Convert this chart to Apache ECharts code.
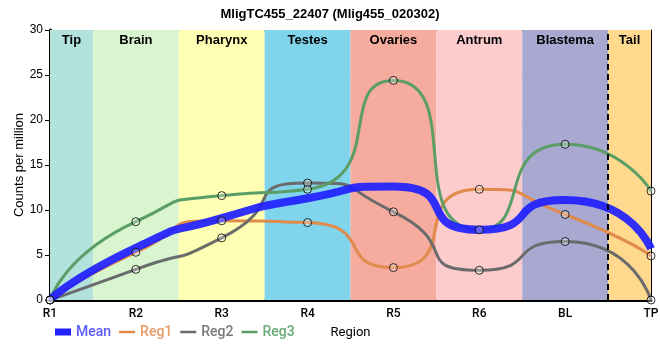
<!DOCTYPE html>
<html><head><meta charset="utf-8">
<script src="https://cdn.jsdelivr.net/npm/echarts@6/dist/echarts.min.js"></script>
<style>html,body{margin:0;padding:0;background:#fff}#c{width:660px;height:360px}</style>
</head><body><div id="c"></div>
<script>
const categories = ['R1','R2','R3','R4','R5','R6','BL','TP'];
const meanValues = [0, 5.8, 9.1, 11.3, 12.6, 7.8, 11.1, 5.7];
const reg1Values = [0, 5.3, 8.8, 8.6, 3.6, 12.3, 9.5, 4.9];
const reg2Values = [0, 3.4, 6.9, 13.0, 9.8, 3.3, 6.5, 0];
const reg3Values = [0, 8.7, 11.6, 12.3, 24.4, 7.8, 17.3, 12.1];
const bandNames = ['Tip','Brain','Pharynx','Testes','Ovaries','Antrum','Blastema','Tail'];
const bandStarts = [0, 0.5, 1.5, 2.5, 3.5, 4.5, 5.5, 6.5];
const bandEnds = [0.5, 1.5, 2.5, 3.5, 4.5, 5.5, 6.5, 7];
const bandColors = ['#b3e2dd','#d9f5d0','#ffffb3','#80d4eb','#f5ab9e','#fccccc','#a8a8d0','#fed98e'];
const dividerAt = 6.5;
const yTicks = {min: 0, max: 30, interval: 5};

const chart = echarts.init(document.getElementById('c'));
const seriesColors = {Mean: '#2020ff', Reg1: '#e08a4c', Reg2: '#6b6b6b', Reg3: '#5a9e66'};
const legendTextColors = {Mean: '#5a5aff', Reg1: '#e89a68', Reg2: '#7a7a7a', Reg3: '#6aaa78'};
const FONT = 'Liberation Sans, Arial, sans-serif';
const SMOOTH = 0.75;

const bandData = bandNames.map((n, i) => [
  {name: n, xAxis: bandStarts[i], itemStyle: {color: bandColors[i]}},
  {xAxis: bandEnds[i]}
]);

function lineSeries(name, values, width, z, opacity) {
  return {
    name, type: 'line', data: values, smooth: SMOOTH, symbol: 'none', z,
    color: seriesColors[name],
    lineStyle: {color: seriesColors[name], width, opacity},
    emphasis: {disabled: true}
  };
}
function markerSeries(values) {
  return {
    type: 'scatter', data: values, symbol: 'circle', symbolSize: 8, z: 10,
    itemStyle: {color: 'rgba(255,255,255,0.35)', borderColor: '#000', borderWidth: 1},
    emphasis: {disabled: true}, silent: true
  };
}
function legendItem(name, icon) {
  return {name, icon, itemStyle: {color: seriesColors[name], borderWidth: 0},
    textStyle: {color: legendTextColors[name]}};
}

chart.setOption({
  animation: false,
  title: {text: 'MligTC455_22407 (Mlig455_020302)', left: 'center', top: 3,
    textStyle: {fontSize: 13, fontWeight: 'bold', color: '#000', fontFamily: FONT}},
  grid: {left: 50, right: 9, top: 30, bottom: 60, containLabel: false, outerBoundsMode: 'none'},
  legend: {
    left: 50, top: 320, itemWidth: 16, itemHeight: 7, itemGap: 8,
    textStyle: {fontSize: 14, fontWeight: 500, fontFamily: 'Roboto, sans-serif'},
    data: [
      legendItem('Mean', 'path://M0,0H16V7H0Z'),
      legendItem('Reg1', 'path://M0,0H16V2.5H0Z'),
      legendItem('Reg2', 'path://M0,0H16V2.5H0Z'),
      legendItem('Reg3', 'path://M0,0H16V2.5H0Z')
    ]
  },
  xAxis: [
    {type: 'category', data: categories, boundaryGap: false,
      axisLine: {lineStyle: {color: '#000', width: 3}}, axisTick: {show: false},
      axisLabel: {color: '#000', fontSize: 12, fontWeight: 500, margin: 8, fontFamily: 'Roboto, sans-serif'},
      splitLine: {show: true, lineStyle: {color: '#cccccc', width: 1}},
      name: 'Region', nameLocation: 'middle', nameGap: 26, nameMoveOverlap: false,
      nameTextStyle: {color: '#000', fontSize: 13, fontFamily: 'Roboto, sans-serif'}},
    {type: 'value', min: 0, max: 7, position: 'top',
      axisLine: {show: true, onZero: false, lineStyle: {color: '#000', width: 1}},
      axisTick: {show: false}, axisLabel: {show: false}, splitLine: {show: false}}
  ],
  yAxis: [
    {type: 'value', min: yTicks.min, max: yTicks.max, interval: yTicks.interval,
      axisLine: {show: true, lineStyle: {color: '#000', width: 3}},
      axisTick: {show: true, length: 5, lineStyle: {color: '#000', width: 1}},
      axisLabel: {color: '#000', fontSize: 12, margin: 7, fontFamily: FONT},
      splitLine: {show: true, lineStyle: {color: '#cccccc', width: 1}},
      name: 'Counts per million', nameLocation: 'middle', nameGap: 24, nameMoveOverlap: false,
      nameTextStyle: {color: '#000', fontSize: 13, fontFamily: FONT}},
    {type: 'value', min: yTicks.min, max: yTicks.max, position: 'right',
      axisLine: {show: true, onZero: false, lineStyle: {color: '#000', width: 1}},
      axisTick: {show: false}, axisLabel: {show: false}, splitLine: {show: false}}
  ],
  series: [
    {type: 'line', xAxisIndex: 1, data: [], z: -1, silent: true,
      markArea: {silent: true, data: bandData,
        label: {show: true, position: 'insideTop', distance: 4, color: '#000',
          fontSize: 13, fontWeight: 'bold', fontFamily: FONT}}},
    {type: 'line', xAxisIndex: 1, data: [], z: 5, silent: true,
      markLine: {silent: true, symbol: 'none', label: {show: false},
        lineStyle: {color: '#000', width: 2, type: [6, 4]},
        data: [{xAxis: dividerAt}]}},
    lineSeries('Reg1', reg1Values, 3, 2, 1),
    lineSeries('Reg2', reg2Values, 3, 2, 1),
    lineSeries('Reg3', reg3Values, 3, 2, 1),
    lineSeries('Mean', meanValues, 8, 3, 0.92),
    markerSeries(reg1Values),
    markerSeries(reg2Values),
    markerSeries(reg3Values)
  ]
});
</script></body></html>
